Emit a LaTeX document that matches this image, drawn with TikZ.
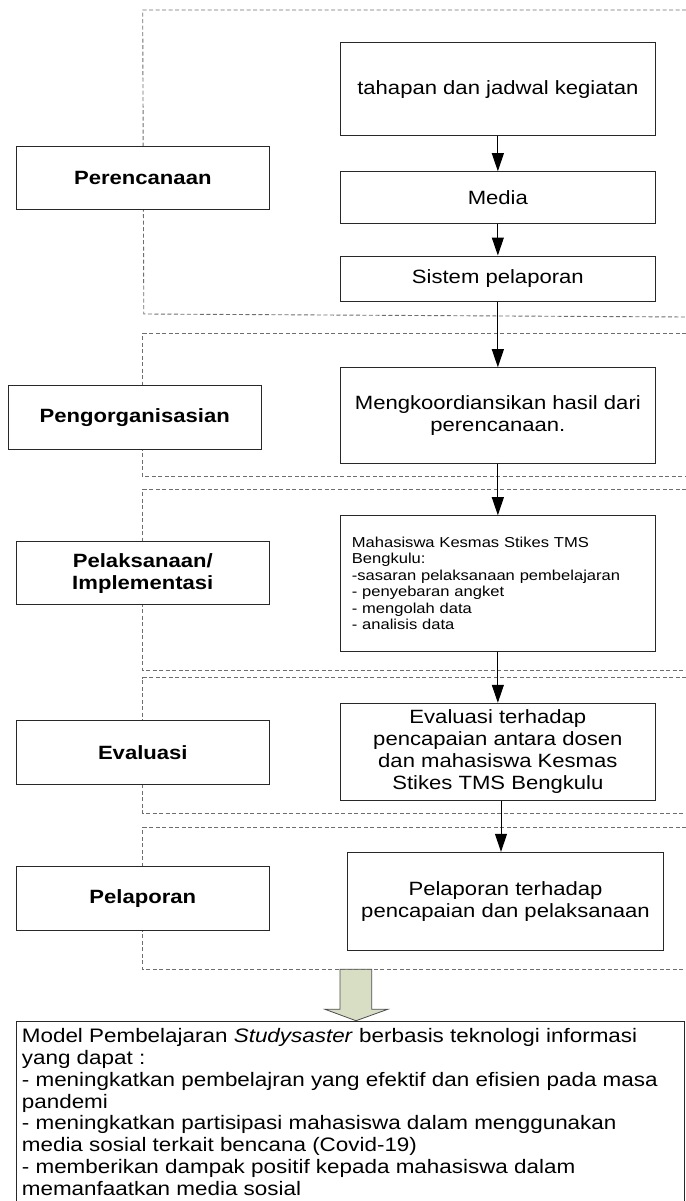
\documentclass[tikz,border=0pt]{standalone}
\usepackage{fontspec}
\setmainfont[FakeStretch=1.15]{Liberation Sans}
\usetikzlibrary{arrows.meta}
\definecolor{framegray}{RGB}{110,110,110}
\definecolor{boxline}{RGB}{40,40,40}
\definecolor{bigarrow}{RGB}{216,222,196}
\newcommand{\mybig}{\fontsize{19.2}{21.8}\selectfont}
\newcommand{\myres}{\fontsize{19.5}{21.9}\selectfont}
\newcommand{\mysmall}{\fontsize{14.4}{16.4}\selectfont}
\begin{document}
\begin{tikzpicture}[x=1pt,y=-1pt,
  frame/.style={draw=framegray, line width=0.9pt, dash pattern=on 4pt off 2.5pt},
  lab/.style={draw=boxline, fill=white, line width=1pt, inner sep=0pt, minimum width=253pt, minimum height=63.5pt, font=\mybig\bfseries, align=center},
  box/.style={draw=boxline, fill=white, line width=1pt, inner sep=0pt, minimum width=315.7pt, font=\mybig, align=center},
  arr/.style={draw=black, line width=1pt, -{Triangle[length=18pt,width=12pt]}},
]
\useasboundingbox (0,0) rectangle (685,1201);
% dashed frames (open at the right edge)
\draw[frame] (686,10) -- (142.7,10) -- (143.8,314) -- (686,317);
\draw[frame] (686,333.3) -- (142.7,333.3) -- (142.7,476.5) -- (686,476.5);
\draw[frame] (686,489.3) -- (142.7,489.3) -- (142.7,670.7) -- (686,670.7);
\draw[frame] (686,677.5) -- (142.7,677.5) -- (142.7,813.3) -- (686,813.3);
\draw[frame] (686,827.3) -- (142.7,827.3) -- (142.7,969.3) -- (686,969.3);
% left labels
\node[lab] (per) at (142.8,178.2) {Perencanaan};
\node[lab, minimum width=252.7pt] (org) at (134.7,417.5) {Pengorganisasian};
\node[lab] (pel) at (142.8,573.2) {Pelaksanaan/\\Implementasi};
\node[lab] (eva) at (142.8,752.7) {Evaluasi};
\node[lab] (lap) at (142.8,898.3) {Pelaporan};
% right boxes
\node[box, minimum height=93.7pt] (b1) at (497.85,89.15) {tahapan dan jadwal kegiatan};
\node[box, minimum height=51.6pt] (b2) at (497.85,197.5) {Media};
\node[box, minimum height=45.7pt] (b3) at (497.85,278.85) {Sistem pelaporan};
\node[box, minimum height=95.6pt] (b4) at (497.85,415.5) {Mengkoordiansikan hasil dari\\perencanaan.};
\node[box, minimum height=135.3pt, font=\mysmall, align=left, text width=292pt, inner xsep=11.8pt] (b5) at (497.85,583.35) {Mahasiswa Kesmas Stikes TMS\\Bengkulu:\\-sasaran pelaksanaan pembelajaran\\- penyebaran angket\\- mengolah data\\- analisis data};
\node[box, minimum height=96.7pt] (b6) at (497.85,751.65) {Evaluasi terhadap\\pencapaian antara dosen\\dan mahasiswa Kesmas\\Stikes TMS Bengkulu};
\node[box, minimum width=315.6pt, minimum height=97.7pt] (b7) at (505.5,901.15) {Pelaporan terhadap\\pencapaian dan pelaksanaan};
% connectors
\draw[arr] (b1) -- (b2);
\draw[arr] (b2) -- (b3);
\draw[arr] (b3) -- (b4);
\draw[arr] (b4) -- (b5);
\draw[arr] (b5) -- (b6);
\coordinate (x6) at (501,0);
\draw[arr] (b6.south -| x6) -- (b7.north -| x6);
% result box
\node[draw=boxline, line width=1pt, anchor=north west, minimum width=668pt, minimum height=200pt, inner sep=0pt] (res) at (16,1021) {};
\node[anchor=north west, inner sep=0pt, align=left, font=\myres] (restext) at (21.7,1028) {Model Pembelajaran \textit{Studysaster} berbasis teknologi informasi\\yang dapat :\\- meningkatkan pembelajran yang efektif dan efisien pada masa\\pandemi\\- meningkatkan partisipasi mahasiswa dalam menggunakan\\media sosial terkait bencana (Covid-19)\\- memberikan dampak positif kepada mahasiswa dalam\\memanfaatkan media sosial};
% big block arrow
\draw[draw=black!70, fill=bigarrow, line width=0.8pt] (340,969.3) -- (371.7,969.3) -- (371.7,1009.3) -- (387.7,1009.3) -- (356,1020.7) -- (325,1009.3) -- (340,1009.3) -- cycle;
\end{tikzpicture}
\end{document}
